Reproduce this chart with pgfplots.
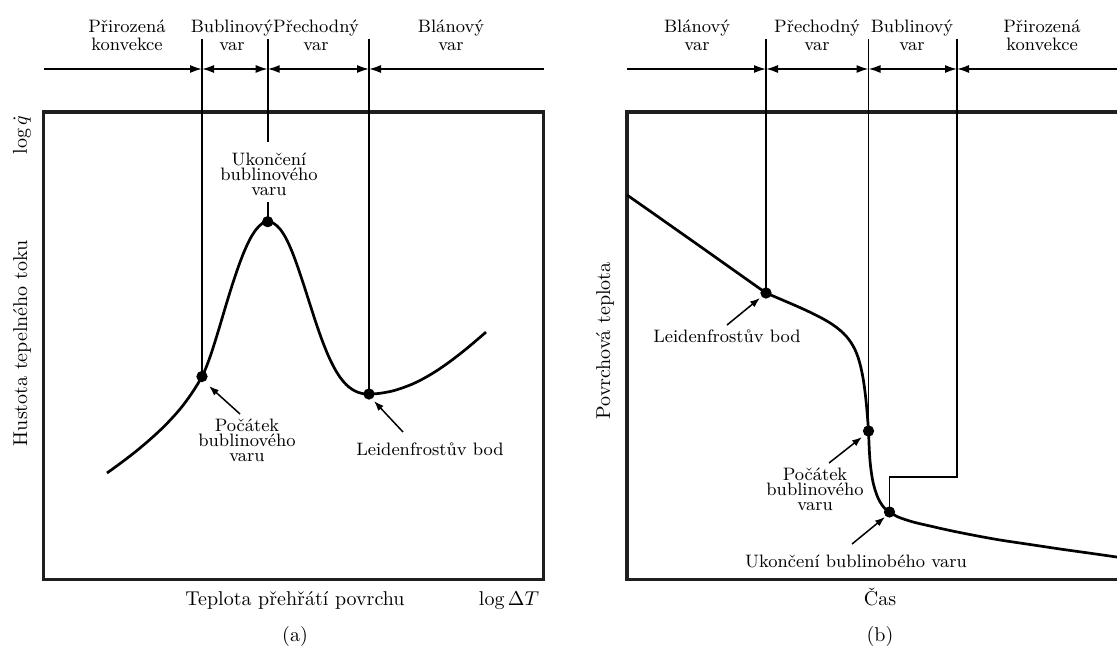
\documentclass[border=0pt]{standalone}
\usepackage{fontspec}
\usepackage{pgfplots}
\pgfplotsset{compat=1.18}
\usetikzlibrary{arrows.meta}

% 1 px of the reference = 0.5pt, y measured from the bottom
\pgfplotsset{
  panel/.style={
    scale only axis, width=250pt, height=233.75pt,
    ymin=68.5, ymax=536,
    xtick=\empty, ytick=\empty,
    axis line style={line width=1.8pt, black!88},
    clip=false,
  },
  curve/.style={black, line width=1.35pt, smooth, tension=0.55, no marks},
  dot/.style={only marks, mark=*, mark size=2.6pt, black},
  guide/.style={black, line width=0.8pt, no marks},
}
\tikzset{
  lab/.style={font=\fontsize{9}{9}\selectfont, align=center, inner sep=0pt},
  note/.style={font=\fontsize{9}{7.5}\selectfont, align=center, inner sep=0pt},
  tip/.style={-{Latex[length=5pt,width=3.6pt]}, line width=0.75pt},
  hd/.style={line width=0.8pt},
}
\def\hl{Latex[length=6pt,width=4pt]}

\begin{document}
\begin{tikzpicture}
\useasboundingbox (0,0) rectangle (558.5pt,324pt);
\clip (0,0) rectangle (558.5pt,324pt);

% ---------------- (a) ----------------
\begin{axis}[panel, at={(21.75pt,34.25pt)}, anchor=south west,
  xmin=43.5, xmax=543.5]
  % region boundaries
  \addplot[guide] coordinates {(202,609) (202,271.5)};
  \addplot[guide] coordinates {(267.7,609) (267.7,506.3)};
  \addplot[guide] coordinates {(267.7,446.3) (267.7,426.3)};
  \addplot[guide] coordinates {(369,609) (369,254)};
  % boiling curve
  \addplot[curve] coordinates {
    (107,175) (120,184.4) (135,195.9) (150,208.5) (165,222.5) (180,238.9)
    (192,255.1) (202,271.5) (208,285.4) (214,303.1) (220,322.7) (226,342.9)
    (232,362.3) (238,380.2) (244,396) (250,408.9) (256,418.4) (262,424.4)
    (267.7,426.3) (274,424.4) (280,419) (286,409.7) (292,396.5) (298,380.3)
    (304,362.3) (310,343.6) (316,325.1) (322,308) (328,293) (334,280.6)
    (340,270.8) (346,263.6) (352,258.7) (358,255.7) (364,254.2) (369,254)
    (380,254.7) (395,257.7) (413,264.2) (430,273.1) (447,284.3) (466,298.9)
    (486,315.9)
  };
  \addplot[dot] coordinates {(202,271.5) (267.7,426.3) (369,254)};

  % regime arrows
  \draw[hd,-{\hl}] (axis cs:43.5,579) -- (axis cs:202,579);
  \draw[hd,{\hl}-{\hl}] (axis cs:202,579) -- (axis cs:267.7,579);
  \draw[hd,{\hl}-{\hl}] (axis cs:267.7,579) -- (axis cs:369,579);
  \draw[hd,{\hl}-] (axis cs:369,579) -- (axis cs:543.5,579);
  \node[lab] at (axis cs:127,613) {Přirozená\\konvekce};
  \node[lab] at (axis cs:232,613) {Bublinový\\var};
  \node[lab] at (axis cs:316,613) {Přechodný\\var};
  \node[lab] at (axis cs:451,613) {Blánový\\var};

  % annotations
  \node[note] at (axis cs:269,474) {Ukončení\\bublinového\\varu};
  \draw[tip] (axis cs:240,234) -- (axis cs:209,262);
  \node[note] at (axis cs:247,208) {Počátek\\bublinového\\varu};
  \draw[tip] (axis cs:403,216) -- (axis cs:374,247);
  \node[note] at (axis cs:430,199) {Leidenfrostův bod};

  % axis texts
  \node[rotate=90] at (axis cs:22,305) {Hustota tepelného toku};
  \node[rotate=90] at (axis cs:22,513) {$\log\dot q$};
  \node[anchor=base] at (axis cs:295,42.5) {Teplota přehřátí povrchu};
  \node[anchor=base] at (axis cs:509,42.5) {$\log\Delta T$};
  \node[anchor=base] at (axis cs:295,6.5) {(a)};
\end{axis}

% ---------------- (b) ----------------
\begin{axis}[panel, at={(313.5pt,34.25pt)}, anchor=south west,
  xmin=627, xmax=1127]
  \addplot[guide] coordinates {(766,609) (766,355)};
  \addplot[guide] coordinates {(868.5,609) (868.5,217)};
  \addplot[guide] coordinates {(957,609) (957,171) (889.5,171) (889.5,136)};
  % cooling curve: film boiling, then transition and nucleate boiling
  \addplot[curve] coordinates {
    (627,453) (650,436.9) (675,419.3) (700,401.7) (725,384) (750,366.3) (766,355)
  };
  \addplot[curve] coordinates {
    (766,355) (800,340.4) (820,330.8) (832,323.8) (840,317.8) (846,312)
    (851,305.5) (855,298.3) (858,290.8) (860.5,282.1) (862.5,272.8)
    (864,263.7) (865.3,253.8) (866.5,242.4) (867.5,230.7) (868.5,217)
    (869.2,200) (870.2,185) (872.2,170) (874.5,160) (878,150) (882,143)
    (885.5,139) (889.5,136) (897,131.5) (905,128.5) (915,125.5) (930,122)
    (950,117.5) (975,112.5) (1000,108) (1030,103.5) (1060,99) (1090,94.8)
    (1127,89.5)
  };
  \addplot[dot] coordinates {(766,355) (868.5,217) (889.5,136)};

  \draw[hd,-{\hl}] (axis cs:627,579) -- (axis cs:766,579);
  \draw[hd,{\hl}-{\hl}] (axis cs:766,579) -- (axis cs:868.5,579);
  \draw[hd,{\hl}-{\hl}] (axis cs:868.5,579) -- (axis cs:957,579);
  \draw[hd,{\hl}-] (axis cs:957,579) -- (axis cs:1127,579);
  \node[lab] at (axis cs:697,613) {Blánový\\var};
  \node[lab] at (axis cs:817,613) {Přechodný\\var};
  \node[lab] at (axis cs:912,613) {Bublinový\\var};
  \node[lab] at (axis cs:1042,613) {Přirozená\\konvekce};

  \draw[tip] (axis cs:727,323) -- (axis cs:760,350);
  \node[note] at (axis cs:727,312) {Leidenfrostův bod};
  \draw[tip] (axis cs:829,185) -- (axis cs:862,211);
  \node[note] at (axis cs:815,159) {Počátek\\bublinového\\varu};
  \draw[tip] (axis cs:852,104) -- (axis cs:885,131);
  \node[note] at (axis cs:856,87) {Ukončení bublinobého varu};

  \node[rotate=90] at (axis cs:605,307) {Povrchová teplota};
  \node[anchor=base] at (axis cs:880,42.5) {Čas};
  \node[anchor=base] at (axis cs:880,6.5) {(b)};
\end{axis}
\end{tikzpicture}
\end{document}
